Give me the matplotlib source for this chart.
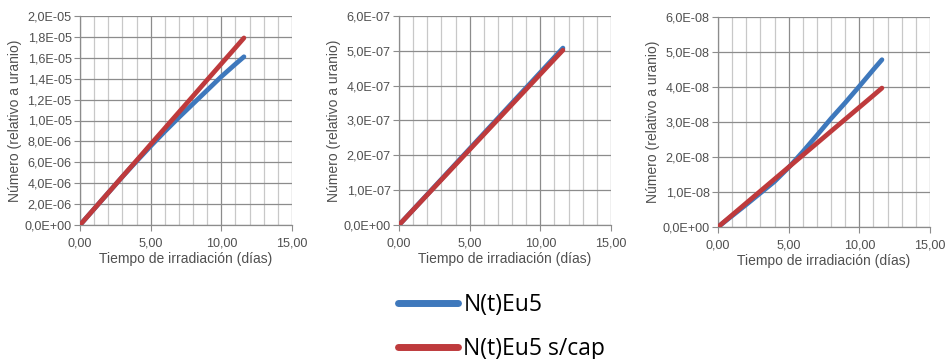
import matplotlib.pyplot as plt
from matplotlib.ticker import FuncFormatter, MultipleLocator

# days of irradiation (shared by all three panels)
dias = [0, 1, 2, 3, 4, 5, 6, 7, 8, 9, 10, 11, 11.6]

# panel 1
eu_a = [0, 1.54e-6, 3.08e-6, 4.62e-6, 6.10e-6, 7.55e-6, 8.95e-6, 1.03e-5,
        1.16e-5, 1.29e-5, 1.42e-5, 1.54e-5, 1.61e-5]
eu_a_scap = [0, 1.543e-6, 3.086e-6, 4.63e-6, 6.17e-6, 7.72e-6, 9.26e-6, 1.08e-5,
             1.234e-5, 1.389e-5, 1.543e-5, 1.697e-5, 1.79e-5]

# panel 2
eu_b = [0, 4.38e-8, 8.76e-8, 1.314e-7, 1.752e-7, 2.19e-7, 2.628e-7, 3.066e-7,
        3.504e-7, 3.942e-7, 4.38e-7, 4.818e-7, 5.08e-7]
eu_b_scap = [0, 4.33e-8, 8.66e-8, 1.299e-7, 1.732e-7, 2.165e-7, 2.598e-7, 3.031e-7,
             3.464e-7, 3.897e-7, 4.33e-7, 4.763e-7, 5.02e-7]

# panel 3
eu_c = [0, 3.2e-9, 6.4e-9, 9.7e-9, 1.3e-8, 1.7e-8, 2.15e-8, 2.62e-8,
        3.1e-8, 3.55e-8, 4.02e-8, 4.5e-8, 4.78e-8]
eu_c_scap = [0, 3.42e-9, 6.84e-9, 1.026e-8, 1.368e-8, 1.71e-8, 2.052e-8, 2.394e-8,
             2.736e-8, 3.078e-8, 3.42e-8, 3.762e-8, 3.97e-8]

paneles = [
    (eu_a, eu_a_scap, 2.0e-5, 2.0e-6),
    (eu_b, eu_b_scap, 6.0e-7, 1.0e-7),
    (eu_c, eu_c_scap, 6.0e-8, 1.0e-8),
]

# axes rectangles in pixels: left, top, right, bottom
cajas = [(80, 16, 292, 225), (399, 16, 611, 225), (718, 17, 930, 227)]

AZUL = "#3E78BC"
ROJO = "#BE3A3C"
TEXTO = "#505050"
W, H = 946, 359

plt.rcParams["font.family"] = ["Liberation Sans", "DejaVu Sans"]

fig = plt.figure(figsize=(W / 100, H / 100), dpi=100)

fmt_y = FuncFormatter(lambda v, p: f"{v:.1E}".replace(".", ","))
fmt_x = FuncFormatter(lambda v, p: f"{v:.2f}".replace(".", ","))

for (azul, rojo, ymax, paso), (l, t, r, b) in zip(paneles, cajas):
    ax = fig.add_axes([l / W, 1 - b / H, (r - l) / W, (b - t) / H])
    ax.plot(dias, azul, color=AZUL, lw=3.4, solid_capstyle="round", zorder=3)
    ax.plot(dias, rojo, color=ROJO, lw=3.4, solid_capstyle="round", zorder=4)

    ax.set_xlim(0, 15)
    ax.set_ylim(0, ymax)
    ax.xaxis.set_major_locator(MultipleLocator(5))
    ax.xaxis.set_minor_locator(MultipleLocator(1))
    ax.yaxis.set_major_locator(MultipleLocator(paso))
    ax.xaxis.set_major_formatter(fmt_x)
    ax.yaxis.set_major_formatter(fmt_y)

    ax.grid(True, which="major", color="#8C8C8C", lw=0.9, zorder=0)
    ax.grid(True, which="minor", axis="x", color="#C8C8C8", lw=0.9, zorder=0)
    ax.set_axisbelow(True)

    for lado in ["top", "right"]:
        ax.spines[lado].set_visible(False)
    for lado in ["left", "bottom"]:
        ax.spines[lado].set_color("#8C8C8C")
        ax.spines[lado].set_linewidth(0.9)

    ax.tick_params(axis="both", which="major", direction="out", length=4,
                   color="#8C8C8C", labelsize=9.1, labelcolor=TEXTO, pad=2)
    ax.tick_params(axis="x", which="minor", length=0)
    ax.tick_params(axis="x", which="major", pad=5)

    ax.set_xlabel("Tiempo de irradiación (días)", fontsize=10, color=TEXTO, labelpad=2)
    ax.set_ylabel("Número (relativo a uranio)", fontsize=10, color=TEXTO, labelpad=2)

# shared legend below the panels
fig.legend(
    [plt.Line2D([], [], color=AZUL, lw=5, solid_capstyle="round"),
     plt.Line2D([], [], color=ROJO, lw=5, solid_capstyle="round")],
    ["N(t)Eu5", "N(t)Eu5 s/cap"],
    loc="center left", bbox_to_anchor=(398 / W, 1 - 327 / H),
    frameon=False, handlelength=2.6, handletextpad=0.25,
    labelspacing=0.85, borderaxespad=0, borderpad=0,
    prop={"family": ["Open Sans", "DejaVu Sans"], "size": 16.5},
)

fig.savefig("out.png", dpi=100)
